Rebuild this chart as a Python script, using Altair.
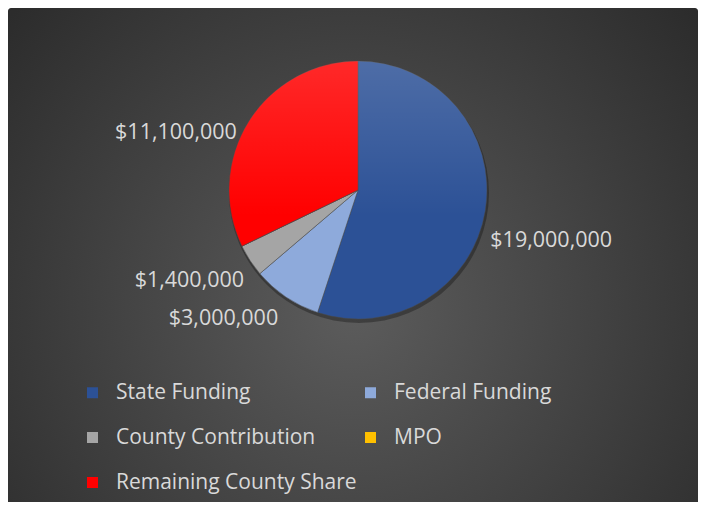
import altair as alt
import pandas as pd

categories = ["State Funding", "Federal Funding", "County Contribution", "MPO", "Remaining County Share"]
values = [19000000, 3000000, 1400000, 0, 11100000]
colors = ["#2c5196", "#8eaadb", "#a5a5a5", "#ffc000", "#ff0000"]

df = pd.DataFrame({"cat": categories, "value": values, "order": list(range(len(categories)))})
total = float(sum(values))

W, H = 690, 494
CX, CY, R = 350, 182, 129

bg = alt.Chart(alt.Data(values=[{"a": 1}])).mark_rect(
    cornerRadius=3,
    color=alt.RadialGradient(
        gradient="radial", x1=0.5, y1=0.55, x2=0.5, y2=0.55, r1=0, r2=0.75,
        stops=[alt.GradientStop(color="#5c5c5c", offset=0),
               alt.GradientStop(color="#252525", offset=1)]),
).encode(x=alt.value(0), x2=alt.value(W), y=alt.value(0), y2=alt.value(H + 40))

shadow = alt.Chart(alt.Data(values=[{"a": 1}])).mark_arc(
    theta=0, theta2=6.2832, radius=R + 1, color="black", opacity=0.3
).encode(x=alt.value(CX + 1), y=alt.value(CY + 3))

base = alt.Chart(df).transform_stack(
    stack="value", as_=["v0", "v1"], groupby=[], sort=[alt.SortField("order", order="ascending")]
).transform_calculate(
    mid="(datum.v0 + datum.v1) / 2",
    label="'$' + format(datum.value, ',')",
)

theta_scale = alt.Scale(domain=[0, total], range=[0, 6.283185307], nice=False)

color_enc = alt.Color(
    "cat:N",
    scale=alt.Scale(domain=categories, range=colors),
    legend=alt.Legend(
        title=None, orient="none", legendX=74, legendY=374, columns=2,
        direction="horizontal", padding=0,
        symbolType="square", symbolSize=121, symbolStrokeWidth=0,
        labelFont="Open Sans", labelFontSize=21, labelColor="#d9d9d9",
        labelOffset=13, rowPadding=23, columnPadding=3, labelLimit=400,
    ),
)

arcs = base.mark_arc(radius=R, stroke="#4a4a4a", strokeWidth=0.5).encode(
    theta=alt.Theta("v0:Q", scale=theta_scale, stack=None),
    theta2="v1:Q",
    color=color_enc,
    x=alt.value(CX), y=alt.value(CY),
)

gloss = alt.Chart(alt.Data(values=[{"a": 1}])).mark_arc(
    theta=0, theta2=6.2832, radius=R,
    color=alt.LinearGradient(
        gradient="linear", x1=0, y1=0, x2=0, y2=1,
        stops=[alt.GradientStop(color="rgba(255,255,255,0.16)", offset=0),
               alt.GradientStop(color="rgba(255,255,255,0)", offset=0.6)]),
).encode(x=alt.value(CX), y=alt.value(CY))

txt_style = dict(font="Open Sans", fontSize=21.5, color="#d9d9d9", baseline="middle")

def label_layer(flt, radius, align, dy):
    return base.transform_filter(flt).mark_text(
        radius=radius, align=align, dy=dy, **txt_style
    ).encode(
        theta=alt.Theta("mid:Q", scale=theta_scale, stack=None),
        text="label:N", x=alt.value(CX), y=alt.value(CY),
    )

t_state = label_layer("datum.cat == 'State Funding'", 134, "left", 30)
t_fed = label_layer("datum.cat == 'Federal Funding'", 143, "right", 10)
t_county = label_layer("datum.cat == 'County Contribution'", 136, "right", 17)
t_rem = label_layer("datum.cat == 'Remaining County Share'", 143, "right", 19)

chart = alt.layer(bg, shadow, arcs, gloss, t_state, t_fed, t_county, t_rem).properties(
    width=W, height=H, padding=0, background="white",
    autosize=alt.AutoSizeParams(type="fit", contains="padding"),
).configure_view(stroke=None)

chart.save("out.html", embed_options={"renderer": "svg", "actions": False})
